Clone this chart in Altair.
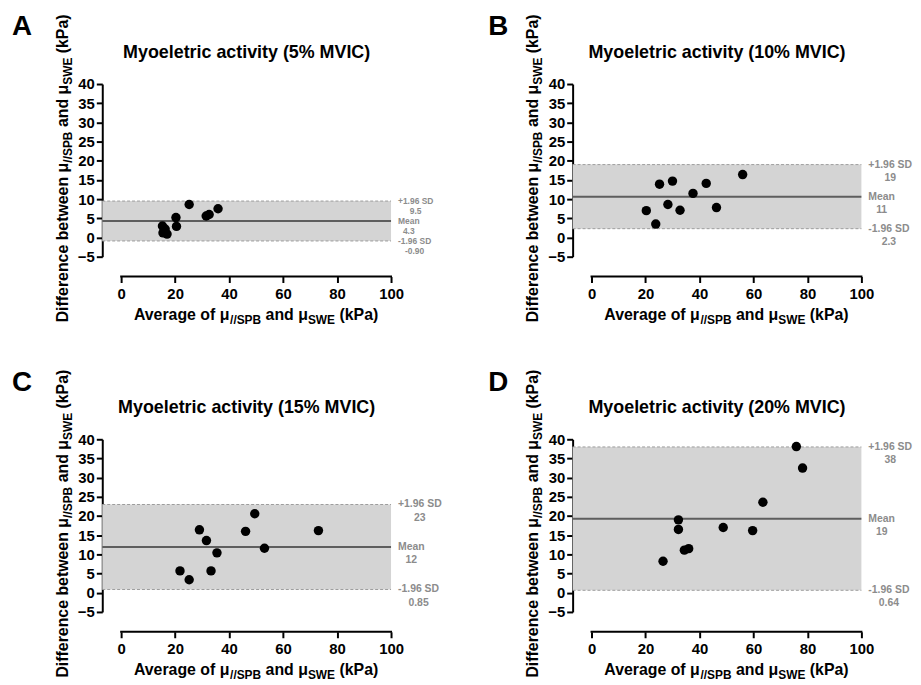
import altair as alt
import pandas as pd

# ---------------- data ----------------
letters = ["A", "B", "C", "D"]
titles = [
    "Myoeletric activity (5% MVIC)",
    "Myoeletric activity (10% MVIC)",
    "Myoeletric activity (15% MVIC)",
    "Myoeletric activity (20% MVIC)",
]
avg_A = [15.3, 15.5, 16.3, 17.0, 20.3, 20.5, 25.2, 31.5, 32.6, 35.9]
diff_A = [3.0, 1.2, 2.2, 0.9, 5.2, 2.9, 8.6, 5.6, 6.0, 7.5]
avg_B = [20.3, 23.8, 25.2, 28.3, 30.0, 32.8, 37.6, 42.5, 46.3, 56.0]
diff_B = [7.0, 3.5, 13.9, 8.6, 14.7, 7.1, 11.5, 14.1, 7.8, 16.4]
avg_C = [21.8, 25.2, 29.0, 31.6, 33.3, 35.5, 46.1, 49.5, 53.1, 73.1]
diff_C = [5.7, 3.4, 16.4, 13.6, 5.7, 10.4, 16.0, 20.6, 11.6, 16.2]
avg_D = [26.5, 32.2, 32.2, 34.4, 36.0, 48.8, 59.7, 63.5, 75.9, 78.2]
diff_D = [8.2, 19.0, 16.5, 11.1, 11.5, 17.0, 16.2, 23.6, 38.1, 32.5]
avgs = [avg_A, avg_B, avg_C, avg_D]
diffs = [diff_A, diff_B, diff_C, diff_D]

bias = [4.3, 10.65, 11.9, 19.3]
upper_loa = [9.5, 19.0, 23.0, 38.0]
lower_loa = [-0.90, 2.3, 0.85, 0.64]
bias_text = ["4.3", "11", "12", "19"]
upper_text = ["9.5", "19", "23", "38"]
lower_text = ["-0.90", "2.3", "0.85", "0.64"]

x_ticks = [0, 20, 40, 60, 80, 100]
y_ticks = [-5, 0, 5, 10, 15, 20, 25, 30, 35, 40]

x_title = [("Average of μ", 0), ("//SPB", 1), (" and μ", 0), ("SWE", 1), (" (kPa)", 0)]
y_title = [("Difference between μ", 0), ("//SPB", 1), (" and μ", 0), ("SWE", 1), (" (kPa)", 0)]

# ---------------- style ----------------
FONT = "Liberation Sans"
W, H = 291, 174
XMIN = -7.0
BAND = "#d4d4d4"
DASH = "#9c9c9c"
MEANC = "#5e5e5e"
LABC = "#8c8c8c"
MAIN_FS, SUB_FS, SUB_SHIFT = 16, 12, 4
TICK_FS = 15
lab_fs = [8.5, 10.5, 10.5, 10.5]
lab_lh = [10, 13.3, 13.3, 13.3]
letter_dx = [-91, -85, -91, -85]

# Arial/Liberation Sans Bold advance widths (per 1000 em)
CW = {" ": 278, "%": 889, "(": 333, ")": 333, "+": 584, "-": 333, ".": 278, "/": 278,
      "A": 722, "B": 722, "C": 722, "D": 722, "E": 667, "I": 278, "M": 833, "P": 667,
      "S": 667, "V": 667, "W": 944, "a": 556, "b": 611, "c": 556, "d": 611, "e": 556,
      "f": 333, "g": 611, "i": 278, "k": 556, "l": 278, "n": 611, "o": 611, "r": 389,
      "t": 333, "v": 556, "w": 778, "y": 556, "μ": 611}
for _d in "0123456789":
    CW[_d] = 556


def tw(s, size):
    return sum(CW.get(c, 600) for c in s) * size / 1000.0


DUMMY = pd.DataFrame({"k": [0]})
xscale = alt.Scale(domain=[XMIN, 100], nice=False, zero=False)
yscale = alt.Scale(domain=[-5, 40], nice=False, zero=False)
xaxis = alt.Axis(values=x_ticks, domain=False, offset=20, tickSize=6, tickWidth=2,
                 tickColor="black", labelFont=FONT, labelFontSize=TICK_FS, labelFontWeight="bold",
                 labelColor="black", labelPadding=4, labelFlush=False, labelOverlap=False,
                 grid=False, title=None, format="d")
yaxis = alt.Axis(values=y_ticks, domain=True, domainWidth=2, domainColor="black",
                 tickSize=6, tickWidth=2, tickColor="black", labelFont=FONT,
                 labelFontSize=TICK_FS, labelFontWeight="bold", labelColor="black",
                 labelPadding=2, labelFlush=False, labelOverlap=False,
                 grid=False, title=None, format="d")


def X():
    return alt.X("x:Q", scale=xscale, axis=xaxis)


def Y():
    return alt.Y("y:Q", scale=yscale, axis=yaxis)


def text_layer(txt, px, py, size, angle=0, align="left", color="black"):
    return alt.Chart(DUMMY).mark_text(
        text=txt, font=FONT, fontSize=size, fontWeight="bold", color=color,
        align=align, baseline="alphabetic", angle=angle,
    ).encode(x=alt.value(px), y=alt.value(py))


def rich_x(segments):
    sizes = [SUB_FS if s else MAIN_FS for _, s in segments]
    total = sum(tw(t, sz) for (t, _), sz in zip(segments, sizes))
    cx = (50 - XMIN) / (100 - XMIN) * W
    pos = cx - total / 2
    out = []
    for (t, s), sz in zip(segments, sizes):
        lead = len(t) - len(t.lstrip(" "))
        px = pos + tw(" " * lead, sz)
        out.append(text_layer(t.strip(" "), px, H + 64 + (SUB_SHIFT if s else 0), sz))
        pos += tw(t, sz)
    return out


def rich_y(segments):
    sizes = [SUB_FS if s else MAIN_FS for _, s in segments]
    total = sum(tw(t, sz) for (t, _), sz in zip(segments, sizes))
    pos = H / 2 - 2 + total / 2
    out = []
    for (t, s), sz in zip(segments, sizes):
        lead = len(t) - len(t.lstrip(" "))
        py = pos - tw(" " * lead, sz)
        out.append(text_layer(t.strip(" "), -35 + (SUB_SHIFT if s else 0), py, sz, angle=270))
        pos -= tw(t, sz)
    return out


def panel(i):
    pts = pd.DataFrame({"x": avgs[i], "y": diffs[i]})
    band = pd.DataFrame({"x": [XMIN], "x2": [x_ticks[-1]], "y": [lower_loa[i]], "y2": [upper_loa[i]]})
    lims = pd.DataFrame({"x": [XMIN, XMIN], "x2": [x_ticks[-1]] * 2, "y": [lower_loa[i], upper_loa[i]]})
    meanl = pd.DataFrame({"x": [XMIN], "x2": [x_ticks[-1]], "y": [bias[i]]})
    axl = pd.DataFrame({"x": [x_ticks[0]], "x2": [x_ticks[-1]]})

    layers = [
        alt.Chart(band).mark_rect(color=BAND).encode(x=X(), x2="x2:Q", y=Y(), y2="y2:Q"),
        alt.Chart(lims).mark_rule(color=DASH, strokeDash=[3, 2], strokeWidth=1).encode(
            x=X(), x2="x2:Q", y=Y()),
        alt.Chart(meanl).mark_rule(color=MEANC, strokeWidth=2).encode(x=X(), x2="x2:Q", y=Y()),
        alt.Chart(pts).mark_circle(size=90, color="black", opacity=1).encode(x=X(), y=Y()),
        alt.Chart(axl).mark_rule(color="black", strokeWidth=2, strokeCap="square").encode(
            x=X(), x2="x2:Q", y=alt.value(H + 20)),
    ]
    fs, lh = lab_fs[i], lab_lh[i]
    for val, name, num in [(upper_loa[i], "+1.96 SD", upper_text[i]),
                           (bias[i], "Mean", bias_text[i]),
                           (lower_loa[i], "-1.96 SD", lower_text[i])]:
        w = max(tw(name, fs), tw(num, fs))
        d = pd.DataFrame({"y": [val], "lab": [name + "\n" + num]})
        layers.append(
            alt.Chart(d).mark_text(font=FONT, fontSize=fs, fontWeight="bold", color=LABC,
                                   align="center", baseline="middle", lineBreak="\n",
                                   lineHeight=lh).encode(
                x=alt.value(W + 7 + w / 2), y=Y(), text="lab:N")
        )
    layers += rich_x(x_title)
    layers += rich_y(y_title)
    layers.append(text_layer(titles[i], W / 2, -26, 18, align="center"))
    layers.append(text_layer(letters[i], letter_dx[i], -49, 28))

    return alt.layer(*layers).properties(width=W, height=H)


chart = alt.concat(
    *[panel(i) for i in range(4)], columns=2,
    spacing=alt.RowColnumber(row=184, column=183), bounds="flush",
).properties(
    padding={"left": 4, "top": 3, "right": 0, "bottom": 0}
).configure_view(stroke=None)

chart.save("out.html", embed_options={"renderer": "svg", "actions": False})
